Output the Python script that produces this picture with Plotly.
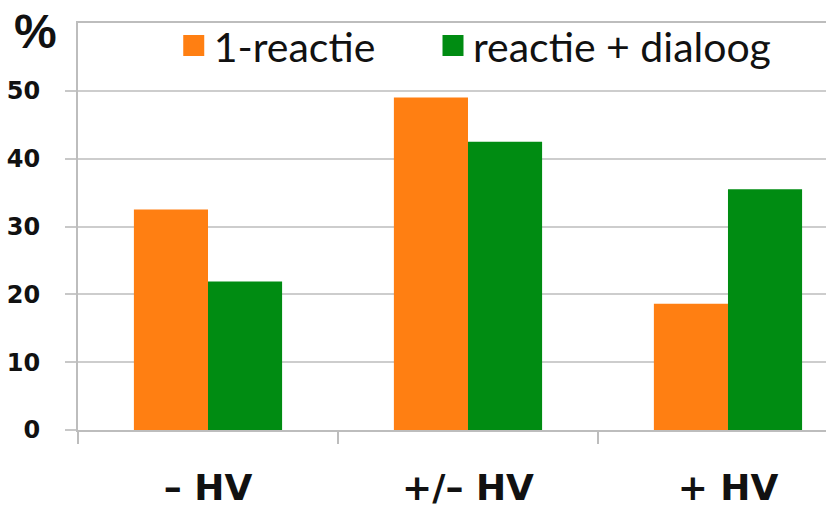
import plotly.graph_objects as go

categories = ["– HV", "+/– HV", "+ HV"]
series_names = ["1-reactie", "reactie + dialoog"]
reactie_1 = [32.5, 49.0, 18.6]
reactie_dialoog = [21.9, 42.5, 35.5]
y_tick_vals = [0, 10, 20, 30, 40, 50]
colors = ["#FF7F12", "#008C12"]
legend_ids = ["legend", "legend2"]

fig = go.Figure()
for name, vals, col in zip(series_names, [reactie_1, reactie_dialoog], colors):
    fig.add_trace(go.Bar(x=categories, y=vals, name=name, showlegend=False,
                         marker=dict(color=col, line=dict(width=0))))
# legend entries with larger square swatches
for name, col, lg in zip(series_names, colors, legend_ids):
    fig.add_trace(go.Scatter(x=[None], y=[None], mode="markers", name=name, legend=lg,
                             marker=dict(symbol="square", size=16, color=col,
                                         line=dict(color=col, width=5))))

legend_style = dict(orientation="h", yanchor="top", y=1.026, xanchor="left",
                    font=dict(family="Lato", size=41, color="#111"),
                    bgcolor="rgba(0,0,0,0)", itemwidth=30)

fig.update_layout(
    width=826, height=508,
    margin=dict(l=78, r=0, t=23, b=78, autoexpand=False),
    paper_bgcolor="white", plot_bgcolor="white",
    barmode="group", bargap=0.43, bargroupgap=0,
    legend=dict(legend_style, x=0.128),
    legend2=dict(legend_style, x=0.4746),
    xaxis=dict(range=[-0.5, 2.377], showline=True, linecolor="#BDBDBD", linewidth=2,
               mirror=True, ticks="outside", tickson="boundaries", ticklen=12,
               tickcolor="#BDBDBD", tickwidth=2, showgrid=False, automargin=False,
               tickfont=dict(family="DejaVu Sans", size=36, color="#111", weight="bold"),
               ticklabelstandoff=25),
    yaxis=dict(range=[0, 60], tickvals=y_tick_vals, showline=True, linecolor="#BDBDBD",
               linewidth=2, ticks="outside", ticklen=11, tickcolor="#C8C8C8", tickwidth=2,
               showgrid=True, gridcolor="#CDCDCD", gridwidth=2, zeroline=False,
               automargin=False,
               tickfont=dict(family="DejaVu Sans", size=24, color="#111", weight="bold"),
               ticklabelstandoff=20),
    showlegend=True,
)
fig.add_annotation(text="%", xref="paper", yref="paper", x=-0.026, y=0.978,
                   xanchor="right", yanchor="middle", showarrow=False,
                   font=dict(family="Liberation Sans", size=48, color="#111", weight="bold"))

fig.write_html("out.html", config={"displayModeBar": False},
               post_script="document.body.style.margin='0px';")
